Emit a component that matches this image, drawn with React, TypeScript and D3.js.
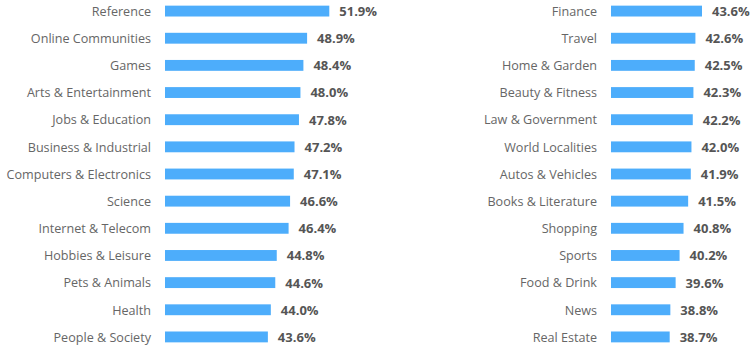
import React from "react";
import * as d3 from "d3";

const leftCategories = [
  "Reference", "Online Communities", "Games", "Arts & Entertainment", "Jobs & Education",
  "Business & Industrial", "Computers & Electronics", "Science", "Internet & Telecom",
  "Hobbies & Leisure", "Pets & Animals", "Health", "People & Society",
];
const leftValues = [51.9, 48.9, 48.4, 48.0, 47.8, 47.2, 47.1, 46.6, 46.4, 44.8, 44.6, 44.0, 43.6];

const rightCategories = [
  "Finance", "Travel", "Home & Garden", "Beauty & Fitness", "Law & Government",
  "World Localities", "Autos & Vehicles", "Books & Literature", "Shopping", "Sports",
  "Food & Drink", "News", "Real Estate",
];
const rightValues = [43.6, 42.6, 42.5, 42.3, 42.2, 42.0, 41.9, 41.5, 40.8, 40.2, 39.6, 38.8, 38.7];

const W = 753;
const H = 349;
const FONT = "'Open Sans', sans-serif";
const BAR = "#4dadfb";

type ColProps = {
  cats: string[];
  vals: number[];
  labelX: number;
  barX: number;
  domain: [number, number];
  maxW: number;
};

function Column({ cats, vals, labelX, barX, domain, maxW }: ColProps) {
  const y = d3
    .scaleBand<string>()
    .domain(cats)
    .range([-2.5, H + 1.5])
    .paddingInner(0.6)
    .paddingOuter(0.3);
  const x = d3.scaleLinear().domain(domain).range([0, maxW]);
  return (
    <g>
      {cats.map((c, i) => {
        const yy = y(c)!;
        const bw = y.bandwidth();
        const cy = yy + bw / 2;
        const w = x(vals[i]);
        return (
          <g key={c}>
            <text
              x={labelX}
              y={cy}
              dy="0.38em"
              textAnchor="end"
              fontFamily={FONT}
              fontSize={12.6}
              fill="#666"
            >
              {c}
            </text>
            <rect x={barX} y={yy} width={w} height={bw} fill={BAR} />
            <text
              x={barX + w + 10}
              y={cy}
              dy="0.38em"
              fontFamily={FONT}
              fontSize={13}
              fontWeight="bold"
              fill="#555"
            >
              {vals[i].toFixed(1)}%
            </text>
          </g>
        );
      })}
    </g>
  );
}

export default function App() {
  return (
    <svg
      width={W}
      height={H}
      style={{ position: "absolute", left: 0, top: 0, background: "#fff" }}
    >
      <Column
        cats={leftCategories}
        vals={leftValues}
        labelX={151}
        barX={165}
        domain={[29.7, 51.9]}
        maxW={164.3}
      />
      <Column
        cats={rightCategories}
        vals={rightValues}
        labelX={597}
        barX={611}
        domain={[29.8, 43.6]}
        maxW={91}
      />
    </svg>
  );
}
